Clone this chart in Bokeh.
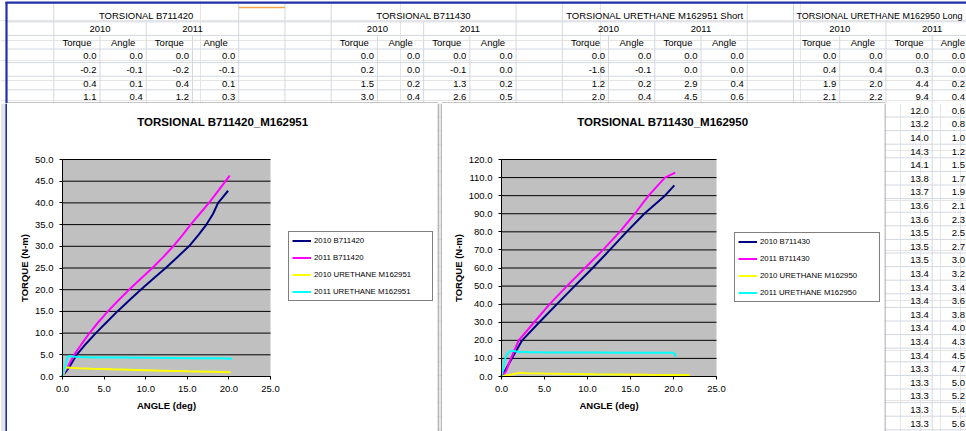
from bokeh.plotting import figure
from bokeh.models import (Range1d, SingleIntervalTicker, PrintfTickFormatter, Legend, LegendItem,
                          Label, BoxAnnotation)
from bokeh.layouts import column, row
from bokeh.core.properties import value
from bokeh.embed import file_html
from bokeh.resources import INLINE

FONT = "Liberation Sans"

# ---------------- data (angle in deg, torque in N-m) ----------------
b711420_2010_angle = [0.0, -0.1, 0.1, 0.4, 0.9, 1.7, 2.8, 4.0, 5.3, 6.6, 8.0, 9.4, 10.9, 12.4, 13.8, 15.2, 16.3, 17.3, 18.1, 18.7, 19.3, 19.9]
b711420_2010_torque = [0.0, -0.2, 0.4, 1.1, 2.4, 5.0, 7.5, 10.0, 12.5, 15.0, 17.5, 20.0, 22.5, 25.0, 27.5, 30.0, 32.5, 35.0, 37.5, 40.0, 41.4, 42.8]
b711420_2011_angle = [0.0, -0.1, 0.1, 0.3, 0.7, 1.4, 2.3, 3.25, 4.3, 5.45, 6.7, 8.0, 9.4, 10.8, 12.1, 13.3, 14.4, 15.4, 16.5, 17.6, 18.8, 20.1]
b711420_2011_torque = [0.0, -0.2, 0.4, 1.2, 2.5, 5.0, 7.5, 10.0, 12.5, 15.0, 17.5, 20.0, 22.5, 25.0, 27.5, 30.0, 32.5, 35.0, 37.5, 40.0, 43.0, 46.3]
m162951_2010_angle = [0.0, -0.1, 0.2, 0.4, 0.6, 1.0, 2.0, 3.5, 6.0, 9.0, 12.0, 15.0, 18.0, 20.2]
m162951_2010_torque = [0.0, -1.6, 1.2, 2.0, 2.1, 2.0, 1.9, 1.8, 1.65, 1.5, 1.35, 1.2, 1.1, 1.0]
m162951_2011_angle = [0.0, 0.0, 0.4, 0.6, 0.8, 1.2, 2.0, 4.0, 7.0, 10.0, 13.0, 16.0, 19.0, 20.4]
m162951_2011_torque = [0.0, 0.0, 2.9, 4.5, 4.7, 4.6, 4.5, 4.4, 4.35, 4.3, 4.25, 4.2, 4.2, 4.1]

b711430_2010_angle = [0.0, 0.0, 0.2, 0.4, 1.2, 2.4, 4.4, 6.45, 8.5, 10.6, 12.6, 14.55, 16.6, 19.0, 20.1]
b711430_2010_torque = [0.0, 0.2, 1.5, 3.0, 10.0, 20.0, 30.0, 40.0, 50.0, 60.0, 70.0, 80.0, 90.0, 100.0, 105.7]
b711430_2011_angle = [0.0, 0.0, 0.2, 0.5, 1.1, 2.0, 3.8, 5.6, 7.6, 9.7, 11.8, 13.75, 15.5, 17.1, 19.0, 20.2]
b711430_2011_torque = [0.0, -0.1, 1.3, 2.6, 10.0, 20.0, 30.0, 40.0, 50.0, 60.0, 70.0, 80.0, 90.0, 100.0, 110.0, 112.7]
m162950_2010_angle = [0.0, 0.4, 2.0, 2.2, 3.0, 5.0, 8.0, 11.0, 14.0, 17.0, 20.0, 21.9]
m162950_2010_torque = [0.0, 0.4, 1.9, 2.1, 1.8, 1.6, 1.4, 1.2, 1.1, 0.9, 0.8, 0.7]
m162950_2011_angle = [0.0, 0.0, 0.2, 0.4, 0.6, 0.8, 1.0, 1.2, 1.5, 1.7, 1.9, 2.1, 2.3, 2.5, 2.7,
                      3.0, 3.2, 3.4, 3.6, 3.8, 4.0, 4.3, 4.5, 4.7, 5.0, 5.2, 5.4, 5.6,
                      8.0, 11.0, 14.0, 17.0, 20.0, 20.3]
m162950_2011_torque = [0.0, 0.3, 4.4, 9.4, 12.0, 13.2, 14.0, 14.3, 14.1, 13.8, 13.7, 13.6, 13.6, 13.5, 13.5,
                       13.5, 13.4, 13.4, 13.4, 13.4, 13.4, 13.4, 13.4, 13.3, 13.3, 13.3, 13.3, 13.3,
                       13.3, 13.3, 13.2, 13.2, 13.2, 11.0]

years = ["2010", "2011"]
col_heads = ["Torque", "Angle"]
blocks = [
    ("TORSIONAL B711420", 1, [(b711420_2010_torque, b711420_2010_angle), (b711420_2011_torque, b711420_2011_angle)]),
    ("TORSIONAL B711430", 7, [(b711430_2010_torque, b711430_2010_angle), (b711430_2011_torque, b711430_2011_angle)]),
    ("TORSIONAL URETHANE M162951 Short", 12, [(m162951_2010_torque, m162951_2010_angle), (m162951_2011_torque, m162951_2011_angle)]),
    ("TORSIONAL URETHANE M162950 Long", 17, [(m162950_2010_torque, m162950_2010_angle), (m162950_2011_torque, m162950_2011_angle)]),
]

chart1_series = [
    ("2010 B711420", b711420_2010_angle, b711420_2010_torque, "#000080"),
    ("2011 B711420", b711420_2011_angle, b711420_2011_torque, "#FF00FF"),
    ("2010 URETHANE M162951", m162951_2010_angle, m162951_2010_torque, "#FFFF00"),
    ("2011 URETHANE M162951", m162951_2011_angle, m162951_2011_torque, "#00FFFF"),
]
chart2_series = [
    ("2010 B711430", b711430_2010_angle, b711430_2010_torque, "#000080"),
    ("2011 B711430", b711430_2011_angle, b711430_2011_torque, "#FF00FF"),
    ("2010 URETHANE M162950", m162950_2010_angle, m162950_2010_torque, "#FFFF00"),
    ("2011 URETHANE M162950", m162950_2011_angle, m162950_2011_torque, "#00FFFF"),
]

# ---------------- sheet geometry (page pixels) ----------------
COLW = 46.23
def colx(k):
    return 53.3 + COLW * (k - 1)

ROWH = 13.6
GRID = "#D3D8E0"
BORDER = "#8E8E8E"
BLUE = "#1F30A8"
PAGE_W, PAGE_H = 966, 431
SPLIT = 103      # where the chart objects begin
H = PAGE_H - SPLIT


def sheet_fig(w, h, x0, y0):
    f = figure(width=w, height=h, x_range=Range1d(x0, x0 + w), y_range=Range1d(y0 + h, y0),
               output_backend="svg", toolbar_location=None,
               x_axis_location=None, y_axis_location=None, min_border=0)
    f.outline_line_color = None
    f.background_fill_color = "white"
    f.border_fill_color = "white"
    return f


def hlines(f, x0, x1, y0, y1):
    ys = [21.3, 34.9, 48.5] + [62.1 + ROWH * j for j in range(40)]
    ys = [y for y in ys if y0 <= y <= y1]
    f.segment([x0] * len(ys), ys, [x1] * len(ys), ys, line_color=GRID, line_width=1)


def sheet_text(f, xs, ys, texts, align, size="9.5px"):
    f.text(xs, ys, text=texts, text_align=align, text_baseline="middle",
           text_font=value(FONT), text_font_size=size, text_color="black")


# top strip of the sheet
top = sheet_fig(PAGE_W, SPLIT, 0, 0)
hlines(top, 7, PAGE_W, 0, SPLIT)
vx, vy0, vy1 = [], [], []
for k in (1, 5, 6, 7, 11, 12, 16, 17):
    vx.append(colx(k)); vy0.append(3); vy1.append(21.3)
for k in (1, 3, 5, 6, 7, 9, 11, 12, 14, 16, 17, 19):
    vx.append(colx(k)); vy0.append(21.3); vy1.append(34.9)
for k in range(1, 21):
    vx.append(colx(k)); vy0.append(34.9); vy1.append(SPLIT)
top.segment(vx, vy0, vx, vy1, line_color=GRID, line_width=1)
top.segment([colx(5)], [7], [colx(6)], [7], line_color="#F0A848", line_width=1.5)

cx, cy, ct = [], [], []
rx, ry, rt = [], [], []
for title, k0, pairs in blocks:
    if colx(k0 + 4) > PAGE_W:
        # last block runs off the window: keep its title inside the page
        sheet_text(top, [colx(k0) + 3], [15.3], [title], "left", size="9px")
    else:
        cx.append((colx(k0) + colx(k0 + 4)) / 2); cy.append(15.3); ct.append(title)
    for i, (tq, an) in enumerate(pairs):
        kk = k0 + 2 * i
        cx.append((colx(kk) + colx(kk + 2)) / 2); cy.append(28.3); ct.append(years[i])
        for c, vals in enumerate((tq, an)):
            xr = colx(kk + c + 1) - 3.5
            if xr > PAGE_W:
                xr = PAGE_W - 1.5
                rx.append(xr); ry.append(42.0); rt.append(col_heads[c])
            else:
                cx.append((colx(kk + c) + colx(kk + c + 1)) / 2); cy.append(42.0); ct.append(col_heads[c])
            for j in range(4):
                rx.append(xr); ry.append(55.8 + ROWH * j); rt.append("%.1f" % vals[j])
sheet_text(top, cx, cy, ct, "center")
sheet_text(top, rx, ry, rt, "right")
# top edges of the two chart objects
top.segment([7, 441.5], [SPLIT - 0.5] * 2, [437.5, 884.5], [SPLIT - 0.5] * 2, line_color=BORDER, line_width=1)
# window frame
top.segment([5], [2.2], [PAGE_W], [2.2], line_color=BLUE, line_width=2.2)
top.segment([6], [1.5], [6], [SPLIT], line_color=BLUE, line_width=2.2)

# left edge below the table
left = sheet_fig(7, H, 0, SPLIT)
left.segment([6], [SPLIT], [6], [PAGE_H], line_color=BLUE, line_width=2.2)

# gap between the charts
gap = sheet_fig(5, H, 437, SPLIT)
hlines(gap, 437, 442, SPLIT, PAGE_H)
gap.segment([437.5, 441.5], [SPLIT] * 2, [437.5, 441.5], [PAGE_H] * 2, line_color=BORDER, line_width=1)

# right strip of the sheet
right = sheet_fig(PAGE_W - 884, H, 884, SPLIT)
hlines(right, 884, PAGE_W, SPLIT, PAGE_H)
right.segment([colx(20)], [SPLIT], [colx(20)], [PAGE_H], line_color=GRID, line_width=1)
right.segment([884.5], [SPLIT], [884.5], [PAGE_H], line_color=BORDER, line_width=1)
rows = [j for j in range(4, 40) if 55.8 + ROWH * j + 6 <= PAGE_H]
sheet_text(right, [colx(20) - 3.5] * len(rows), [55.8 + ROWH * j for j in rows],
           ["%.1f" % m162950_2011_torque[j] for j in rows], "right")
sheet_text(right, [PAGE_W - 1.5] * len(rows), [55.8 + ROWH * j for j in rows],
           ["%.1f" % m162950_2011_angle[j] for j in rows], "right")


# ---------------- charts ----------------
def clip_low(xs, ys):
    """Clip a polyline to x >= 0, y >= 0 (the plot area starts at the axes)."""
    def inside(p):
        return p[0] >= 0 and p[1] >= 0

    def cross(p_in, p_out):
        t = 1.0
        if p_out[0] < 0:
            t = min(t, p_in[0] / (p_in[0] - p_out[0]))
        if p_out[1] < 0:
            t = min(t, p_in[1] / (p_in[1] - p_out[1]))
        return (p_in[0] + t * (p_out[0] - p_in[0]), p_in[1] + t * (p_out[1] - p_in[1]))

    pts = list(zip(xs, ys))
    out = []
    for i, pt in enumerate(pts):
        if inside(pt):
            if i > 0 and not inside(pts[i - 1]):
                out.append(cross(pt, pts[i - 1]))
            out.append(pt)
        elif i > 0 and inside(pts[i - 1]):
            out.append(cross(pts[i - 1], pt))
    return [p[0] for p in out], [p[1] for p in out]


def chart(title, fig_l, fig_w, plot_l, plot_r, ymax, yint, series, leg_box, title_xy):
    plot_t, plot_b = 159, 376
    xpp = (plot_r - plot_l) / 25.0          # pixels per degree
    ypp = (plot_b - plot_t) / float(ymax)    # pixels per N-m
    p = figure(width=fig_w, height=H,
               x_range=Range1d((fig_l - plot_l) / xpp, (fig_l + fig_w - plot_l) / xpp),
               y_range=Range1d((plot_b - PAGE_H) / ypp, (plot_b - SPLIT) / ypp),
               output_backend="svg", toolbar_location=None, min_border=0)
    p.background_fill_color = "white"
    p.border_fill_color = "white"
    p.outline_line_color = None
    p.grid.visible = False
    p.add_layout(BoxAnnotation(left=0, right=25, bottom=0, top=ymax, fill_color="#C0C0C0",
                               fill_alpha=1, line_color=None, level="underlay"))
    ticks = list(range(0, ymax + 1, yint))
    p.segment([0] * len(ticks), ticks, [25] * len(ticks), ticks, line_color="black", line_width=1)

    p.xaxis.ticker = SingleIntervalTicker(interval=5, num_minor_ticks=0)
    p.yaxis.ticker = SingleIntervalTicker(interval=yint, num_minor_ticks=0)
    p.xaxis.bounds = (0, 25)
    p.yaxis.bounds = (0, ymax)
    p.xaxis.fixed_location = 0
    p.yaxis.fixed_location = 0
    for ax in (p.xaxis[0], p.yaxis[0]):
        ax.formatter = PrintfTickFormatter(format="%.1f")
        ax.major_label_text_font = FONT
        ax.major_label_text_font_size = "9.5px"
        ax.major_label_text_color = "black"
        ax.axis_label_text_font = FONT
        ax.axis_label_text_font_size = "9.5px"
        ax.axis_label_text_font_style = "bold"
        ax.axis_label_text_color = "black"
        ax.axis_line_color = "black"
        ax.major_tick_line_color = "black"
        ax.major_tick_out = 3
        ax.major_tick_in = 0
        ax.minor_tick_line_color = None
        ax.axis_label_standoff = 5
    p.xaxis.major_label_standoff = 6
    p.yaxis.major_label_standoff = 6
    p.yaxis.axis_label_standoff = 2
    p.xaxis.axis_label = "ANGLE (deg)"
    p.yaxis.axis_label = "TORQUE (N-m)"

    tx, ty = title_xy
    p.add_layout(Label(x=(tx - plot_l) / xpp, y=(plot_b - ty) / ypp, text=title,
                       text_align="center", text_baseline="middle", text_font=FONT,
                       text_font_size="11.5px", text_font_style="bold", text_color="black"))

    items = []
    for lab, xs, ys, colr in series:
        cx_, cy_ = clip_low(xs, ys)
        r = p.line(cx_, cy_, line_color=colr, line_width=2)
        items.append(LegendItem(label=lab, renderers=[r]))
    bl, bb, bw = leg_box
    leg = Legend(items=items, location=(bl - fig_l, PAGE_H - bb), padding=3, spacing=6, margin=0,
                 glyph_width=19, glyph_height=11, label_height=11, label_width=bw - 28,
                 label_standoff=3, label_text_font=FONT, label_text_font_size="7.8px",
                 label_text_color="black",
                 border_line_color="black", border_line_width=1,
                 background_fill_color="white", background_fill_alpha=1)
    p.add_layout(leg, "center")
    return p


c1 = chart("TORSIONAL B711420_M162951", 7, 430, 62, 270, 50, 5, chart1_series,
           (288, 301, 143), (222.3, 121.7))
c2 = chart("TORSIONAL B711430_M162950", 442, 442, 501, 716, 120, 10, chart2_series,
           (734, 302, 144), (662.2, 121.7))

layout = column(top, row(left, c1, gap, c2, right))
open("out.html", "w").write(file_html(layout, INLINE))
